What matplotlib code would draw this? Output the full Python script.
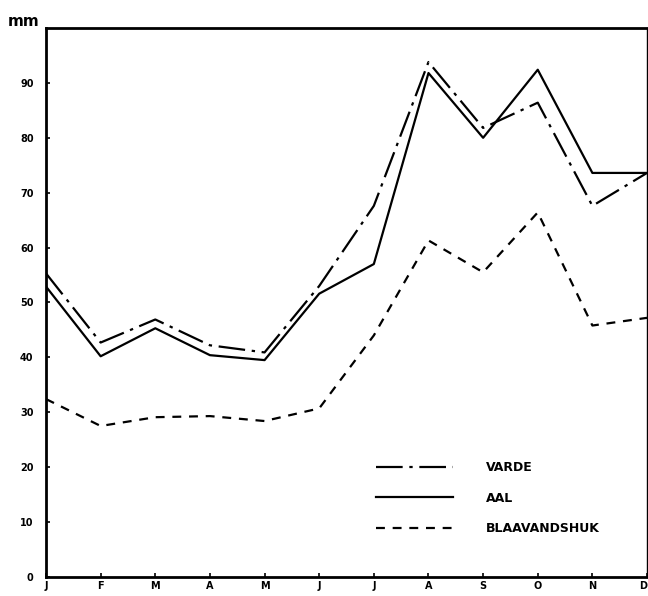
import matplotlib.pyplot as plt

# monthly precipitation (mm)
months = ['J', 'F', 'M', 'A', 'M', 'J', 'J', 'A', 'S', 'O', 'N', 'D']
varde = [55.3, 42.7, 46.9, 42.2, 40.9, 53.0, 67.6, 93.8, 81.8, 86.4, 67.6, 73.6]
aal = [52.9, 40.2, 45.3, 40.4, 39.5, 51.6, 57.0, 91.8, 80.0, 92.4, 73.6, 73.6]
blaavandshuk = [32.4, 27.5, 29.1, 29.3, 28.4, 30.7, 44.0, 61.3, 55.5, 66.4, 45.8, 47.2]
yticks = [0, 10, 20, 30, 40, 50, 60, 70, 80, 90]

fig = plt.figure(figsize=(6.48, 5.96), dpi=100)
ax = fig.add_axes([0.071, 0.032, 0.9275, 0.921])

x = range(len(months))
ax.plot(x, varde, color='black', lw=1.6, linestyle=(0, (12, 3, 1.5, 3)), label='VARDE')
ax.plot(x, aal, color='black', lw=1.6, linestyle='-', label='AAL')
ax.plot(x, blaavandshuk, color='black', lw=1.6, linestyle=(0, (4, 3.5)), label='BLAAVANDSHUK')

ax.set_xlim(0, 11)
ax.set_ylim(0, 100)
ax.set_xticks(list(x))
ax.set_xticklabels(months, fontsize=7, fontweight='bold')
# last label sits on the figure edge, keep it inside
ax.get_xticklabels()[-1].set_horizontalalignment('right')
ax.set_yticks(yticks)
ax.set_yticklabels([str(v) for v in yticks], fontsize=7, fontweight='bold')
ax.tick_params(direction='in', length=3, width=1.2)
ax.tick_params(axis='y', pad=9)
ax.tick_params(axis='x', pad=3)

for side in ['left', 'bottom', 'top']:
    ax.spines[side].set_linewidth(2)
ax.spines['right'].set_linewidth(1)

fig.text(0.012, 0.952, 'mm', fontsize=11, fontweight='bold', va='bottom')

ax.legend(loc='lower left', bbox_to_anchor=(0.53, 0.055), frameon=False,
          handlelength=6.2, handletextpad=2.6, labelspacing=1.42,
          prop={'size': 9, 'weight': 'bold'})

fig.savefig('out.png', dpi=100)
